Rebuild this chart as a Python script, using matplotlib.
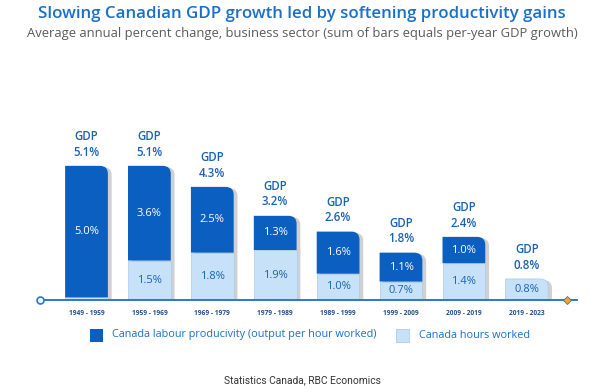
import matplotlib
matplotlib.use('Agg')
import matplotlib.pyplot as plt
from matplotlib.path import Path
import matplotlib.patches as mpatches

# Data
periods = ['1949 - 1959', '1959 - 1969', '1969 - 1979', '1979 - 1989',
           '1989 - 1999', '1999 - 2009', '2009 - 2019', '2019 - 2023']
productivity = [5.0, 3.6, 2.5, 1.3, 1.6, 1.1, 1.0, 0.0]
hours = [0.1, 1.5, 1.8, 1.9, 1.0, 0.7, 1.4, 0.8]
gdp = [5.1, 5.1, 4.3, 3.2, 2.6, 1.8, 2.4, 0.8]

dark = '#0b5fc0'
light = '#c7e2f8'
text_blue = '#1a62b4'

plt.rcParams['font.family'] = ['Open Sans', 'DejaVu Sans']

fig = plt.figure(figsize=(6.04, 3.92), dpi=100)
fig.patch.set_facecolor('white')
ax = fig.add_axes([38 / 604, 92 / 392, 542 / 604, 171 / 392])
ax.set_xlim(-0.771, 7.846)
ax.set_ylim(0, 6.5)
ax.axis('off')

width = 0.68
# corner radius in data units (about 8 px)
rx, ry = 0.13, 0.30


def bar_path(x0, x1, y0, y1, rounded):
    if not rounded:
        verts = [(x0, y0), (x1, y0), (x1, y1), (x0, y1), (x0, y0)]
        codes = [Path.MOVETO] + [Path.LINETO] * 3 + [Path.CLOSEPOLY]
    else:
        verts = [(x0, y0), (x1, y0), (x1, y1 - ry), (x1, y1), (x1 - rx, y1),
                 (x0, y1), (x0, y0)]
        codes = [Path.MOVETO, Path.LINETO, Path.LINETO, Path.CURVE3,
                 Path.CURVE3, Path.LINETO, Path.CLOSEPOLY]
    return Path(verts, codes)


for i, (p, h, g) in enumerate(zip(productivity, hours, gdp)):
    x0, x1 = i - width / 2, i + width / 2
    # shadow
    sh = mpatches.PathPatch(bar_path(x0 + 0.06, x1 + 0.06, 0, g - 0.05, True),
                            facecolor='#d0d0d0', edgecolor='none', zorder=1)
    ax.add_patch(sh)
    # hours (bottom)
    top_is_hours = p == 0
    ax.add_patch(mpatches.PathPatch(bar_path(x0, x1, 0, h, top_is_hours),
                                    facecolor=light, edgecolor='#a9cbea',
                                    linewidth=0.5, zorder=2))
    if p > 0:
        ax.add_patch(mpatches.PathPatch(bar_path(x0, x1, h, h + p, True),
                                        facecolor=dark, edgecolor='none',
                                        zorder=2))
        ax.text(i, h + p / 2, f'{p:.1f}%', ha='center', va='center',
                color='white', fontsize=8, zorder=3)
    if h >= 0.5:
        ax.text(i, h / 2, f'{h:.1f}%', ha='center', va='center',
                color=text_blue, fontsize=8, zorder=3)
    ax.text(i, g + 0.82, f'GDP\n{g:.1f}%', ha='center', va='center',
            color=text_blue, fontsize=8.3, fontweight='semibold',
            linespacing=1.25, zorder=3)
    ax.text(i, -0.5, periods[i], ha='center', va='center',
            color='#1f4f8f', fontsize=4.8, fontweight='bold')

# baseline with end markers
ax.plot([-0.74, 7.8], [0, 0], color='#2a78cc', linewidth=1.4, zorder=4,
        clip_on=False)
ax.plot([-0.74], [0], marker='o', markersize=5, markerfacecolor='white',
        markeredgecolor='#2a78cc', markeredgewidth=1.2, zorder=5, clip_on=False)
ax.plot([7.64], [0], marker='D', markersize=4.5, markerfacecolor='#f5a623',
        markeredgecolor='#2a78cc', markeredgewidth=0.6, zorder=5, clip_on=False)

# title
fig.text(0.5, 1 - 14 / 392, 'Slowing Canadian GDP growth led by softening productivity gains',
         ha='center', va='center', color='#1a6fc8', fontsize=12.2,
         fontweight='semibold')
fig.text(0.5, 1 - 33 / 392,
         'Average annual percent change, business sector (sum of bars equals per-year GDP growth)',
         ha='center', va='center', color='#5a5a5a', fontsize=9.4)

# legend
fig.patches.append(mpatches.Rectangle((90 / 604, 1 - 342 / 392), 13 / 604, 13 / 392,
                                      transform=fig.transFigure,
                                      facecolor=dark, edgecolor='none'))
fig.text(112 / 604, 1 - 335 / 392,
         'Canada labour producivity (output per hour worked)',
         ha='left', va='center', color='#1a6fc8', fontsize=7.8)
fig.patches.append(mpatches.Rectangle((396 / 604, 1 - 342 / 392), 13 / 604, 13 / 392,
                                      transform=fig.transFigure,
                                      facecolor=light, edgecolor='#b0cbe6',
                                      linewidth=0.6))
fig.text(419 / 604, 1 - 335 / 392, 'Canada hours worked',
         ha='left', va='center', color='#1a6fc8', fontsize=7.8)

fig.text(0.5, 1 - 380 / 392, 'Statistics Canada, RBC Economics',
         ha='center', va='center', color='#333333', fontsize=7.4,
         family=['Roboto', 'DejaVu Sans'])

fig.savefig('out.png', dpi=100, facecolor='white')
